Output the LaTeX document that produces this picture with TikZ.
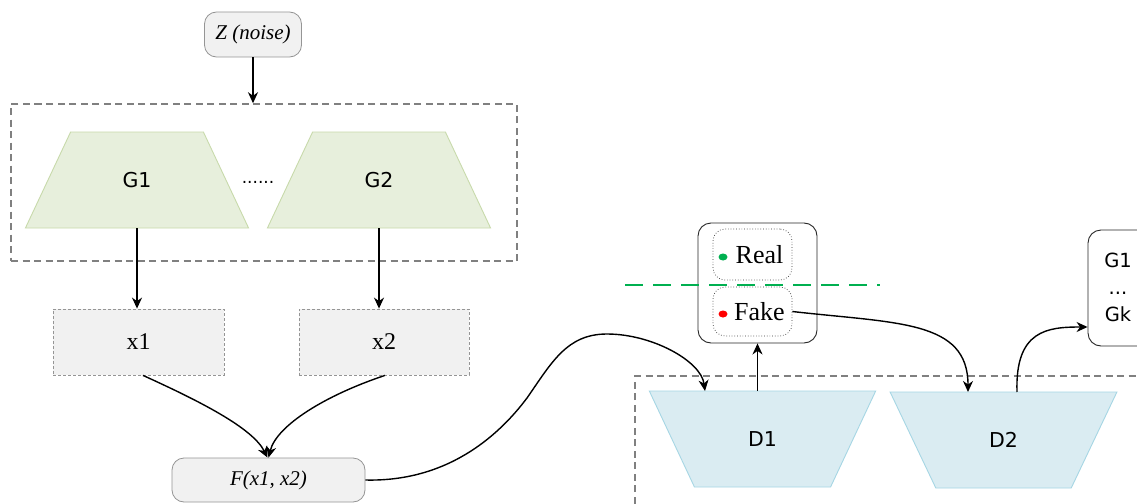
\documentclass[tikz,border=0pt]{standalone}
\usepackage{fontspec}
\setmainfont{Liberation Serif}
\newfontfamily\labelsans{DejaVu Sans}
\usetikzlibrary{shapes.geometric,arrows.meta}

\definecolor{softfill}{HTML}{F1F1F1}
\definecolor{softline}{HTML}{959595}
\definecolor{groupline}{HTML}{808080}
\definecolor{genfill}{HTML}{E7EFDC}
\definecolor{genline}{HTML}{C8DAAB}
\definecolor{discfill}{HTML}{DAECF2}
\definecolor{discline}{HTML}{A6D6E4}
\definecolor{okgreen}{HTML}{00B050}
\definecolor{badred}{HTML}{FF0000}

\tikzset{
  softbox/.style={draw=softline, fill=softfill, rounded corners=12pt, line width=0.8pt,
    inner sep=0pt, font=\fontsize{21}{24}\selectfont\itshape},
  samplebox/.style={draw=softline, fill=softfill, dashed, dash pattern=on 3pt off 2pt,
    line width=0.8pt, inner sep=0pt, font=\fontsize{24}{28}\selectfont},
  groupbox/.style={draw=groupline, dash pattern=on 7pt off 4.5pt, line width=1.5pt},
  gentrap/.style={trapezium, trapezium stretches=true, draw=genline, fill=genfill,
    line width=0.9pt, inner sep=0pt, outer sep=0pt,
    trapezium left angle=57.6, trapezium right angle=57.6,
    minimum width=224pt, minimum height=96pt, font=\labelsans\fontsize{20.5}{24}\selectfont},
  disctrap/.style={trapezium, trapezium stretches=true, draw=discline, fill=discfill,
    line width=0.9pt, inner sep=0pt, outer sep=0pt,
    trapezium left angle=122.6, trapezium right angle=122.6,
    minimum width=227pt, minimum height=96pt, font=\labelsans\fontsize{20.5}{24}\selectfont},
  classbox/.style={draw=black!85, rounded corners=13pt, line width=0.9pt, inner sep=0pt},
  labelbox/.style={draw=black!80, dotted, rounded corners=12pt, line width=0.7pt,
    inner sep=0pt, font=\fontsize{26}{30}\selectfont},
  arr/.style={line width=1.4pt, -{Stealth[length=11pt,width=10pt,inset=3.5pt]}},
  dot/.style={ellipse, inner sep=0pt, minimum width=9pt, minimum height=7pt}
}

\begin{document}
\begin{tikzpicture}[x=1pt, y=-1pt]
\clip (0,0) rectangle (1137,503);
\fill[white] (0,0) rectangle (1137,503);

% noise input and generator group
\node[softbox, minimum width=97pt, minimum height=45pt] (z) at (253,34.5) {Z (noise)};
\node[groupbox, minimum width=506pt, minimum height=157pt, inner sep=0pt] (gen) at (264,182.5) {};
\node[gentrap] (g1) at (137,180) {G1};
\node[gentrap] (g2) at (379,180) {G2};
\node[font=\labelsans\fontsize{17}{20}\selectfont] (gdots) at (258,182) {......};

% generated samples
\node[samplebox, minimum width=171pt, minimum height=66pt] (x1) at (138.5,342) {x1};
\node[samplebox, minimum width=170pt, minimum height=66pt] (x2) at (384,342) {x2};
\node[softbox, minimum width=193pt, minimum height=44pt] (f) at (268.5,480) {F(x1, x2)};

% discriminator group
\draw[groupbox] (635,515) -- (635,376) -- (1150,376);
\node[disctrap] (d1) at (762.5,439) {D1};
\node[disctrap] (d2) at (1003.5,440) {D2};

% real / fake decision
\node[classbox, minimum width=119pt, minimum height=120pt] (rf) at (757.5,283) {};
\node[labelbox, minimum width=79pt, minimum height=51pt] (real) at (752.5,254.5) {\hspace{14pt}Real};
\node[labelbox, minimum width=79pt, minimum height=49pt] (fake) at (752.5,311.5) {\hspace{14pt}Fake};
\node[dot, fill=okgreen] (gdot) at (723,257) {};
\node[dot, fill=badred] (rdot) at (723,314) {};
\draw[okgreen, line width=2.6pt, dash pattern=on 18pt off 10pt] (625,285) -- (880,285);

% generator stack
\node[classbox, minimum width=62pt, minimum height=116pt] (gs) at (1119,288) {};
\node[font=\labelsans\fontsize{19.5}{27}\selectfont, align=center] (gstext) at (1118,287) {G1\\...\\Gk};

% connectors
\draw[arr] (z.south) -- (z.south |- gen.north);
\draw[arr] (g1.south) -- (g1.south |- x1.north);
\draw[arr] (g2.south) -- (g2.south |- x2.north);
\draw[arr] ([xshift=4.5pt]x1.south) .. controls +(55,25) and +(-15,-30) .. ([xshift=-1pt]f.north);
\draw[arr] ([xshift=1pt]x2.south) .. controls +(-60,20) and +(8,-32) .. (f.north);
\draw[arr] (f.east) .. controls +(80,2) and +(-30,40) .. (527,398)
  .. controls +(25,-36) and +(-40,0) .. (607,334)
  .. controls +(45,0) and +(-4,-30) .. ([xshift=-57.5pt]d1.north);
\draw[arr] (rf.south |- d1.north) -- (rf.south);
\draw[arr] (fake.east) .. controls +(105,12) and +(0,-72) .. ([xshift=-35.5pt]d2.north);
\draw[arr] ([xshift=13.5pt]d2.north) .. controls +(-2,-62) and +(-40,0) .. ([yshift=-39pt]gs.west);
\end{tikzpicture}
\end{document}
